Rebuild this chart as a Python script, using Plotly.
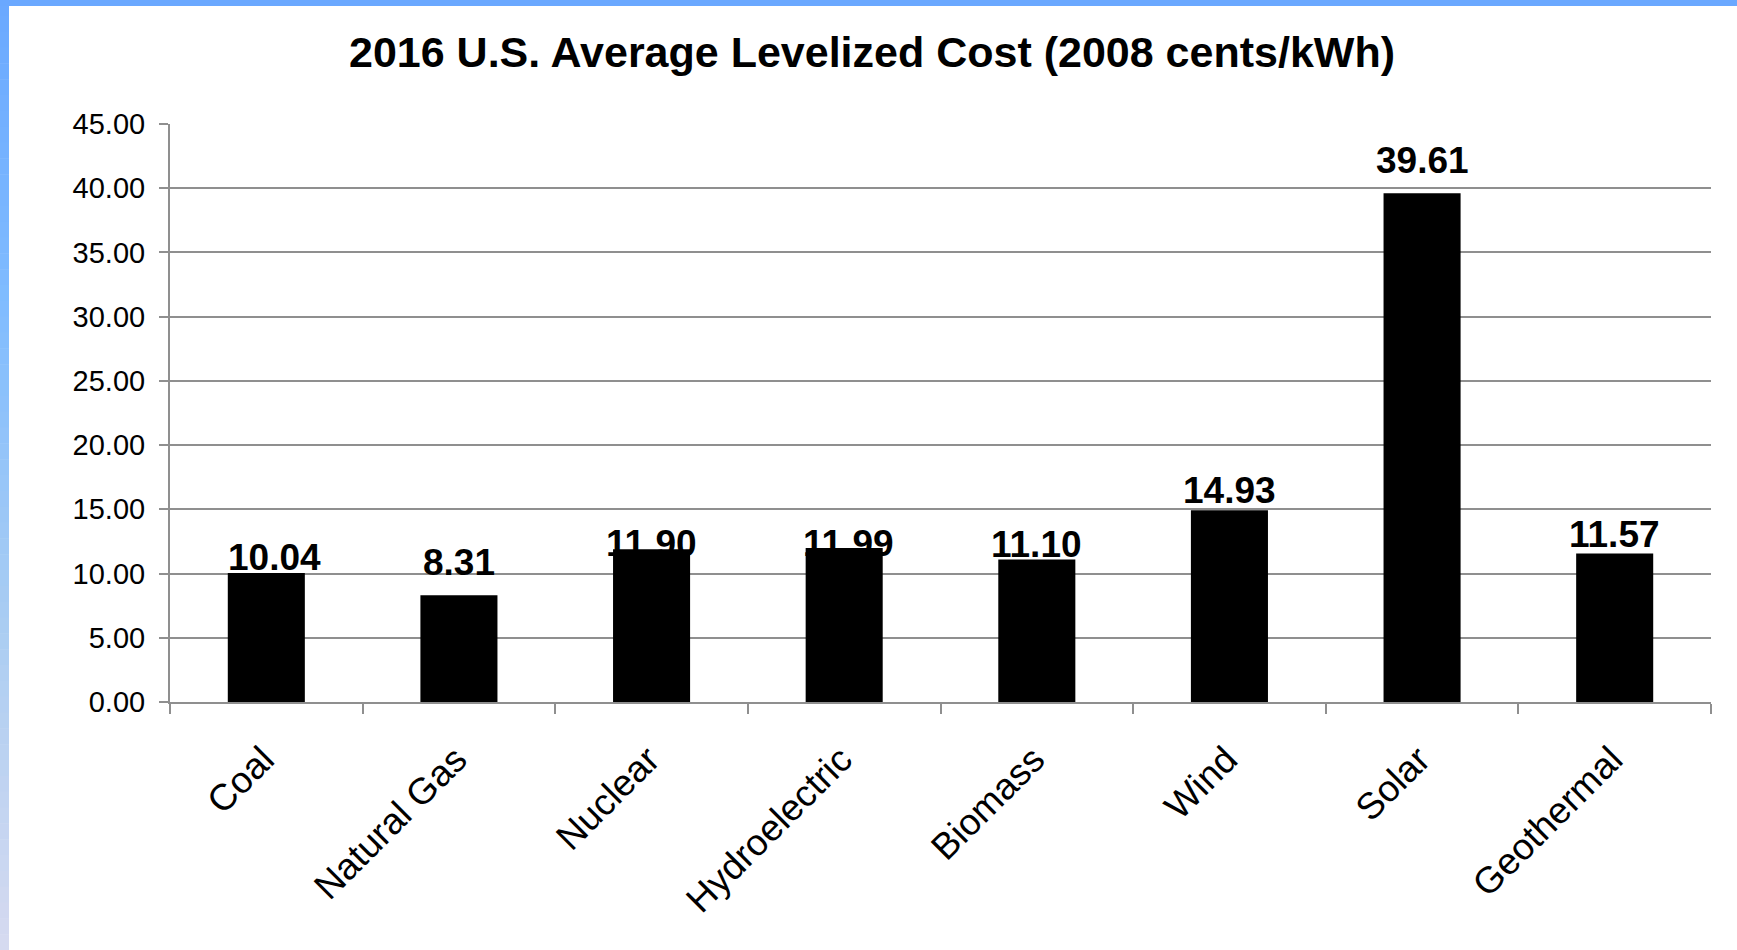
import plotly.graph_objects as go

# ---------------- data ----------------
categories = ["Coal", "Natural Gas", "Nuclear", "Hydroelectric",
              "Biomass", "Wind", "Solar", "Geothermal"]
costs = [10.04, 8.31, 11.90, 11.99, 11.10, 14.93, 39.61, 11.57]
value_labels = ["10.04", "8.31", "11.90", "11.99", "11.10", "14.93", "39.61", "11.57"]
y_tick_values = [0, 5, 10, 15, 20, 25, 30, 35, 40, 45]
y_tick_labels = ["0.00", "5.00", "10.00", "15.00", "20.00",
                 "25.00", "30.00", "35.00", "40.00", "45.00"]
title_text = "2016 U.S. Average Levelized Cost (2008 cents/kWh)"

# ---------------- styling ----------------
W, H = 1737, 950
ML, MR, MT, MB = 170, 26, 124, 248
PW, PH = W - ML - MR, H - MT - MB
FONT = "Liberation Sans, Arial, sans-serif"
GRID = "#8f8f8f"

# per-label manual nudges (pixels) as in the original slide
label_lift_px = [1.6, 19.7, -7.7, -9.0, 1.3, 6.0, 19.0, 5.7]
label_xshift_px = [8, 0, 0, 4, 0, 0, 0, 0]
DESCENT = 9

fig = go.Figure()
fig.add_trace(go.Bar(
    x=categories, y=costs, width=0.4,
    marker=dict(color="#000000", line=dict(width=0)),
    hoverinfo="x+y", showlegend=False,
))

for cat, val, txt, lift, xs in zip(categories, costs, value_labels,
                                    label_lift_px, label_xshift_px):
    fig.add_annotation(
        x=cat, y=val, text="<b>%s</b>" % txt, showarrow=False,
        xanchor="center", yanchor="bottom", yshift=lift - DESCENT, xshift=xs,
        font=dict(family=FONT, size=37, color="#000000"),
    )

# decorative gradient frame (left and top edges)
def px2x(px):
    return (px - ML) / PW

def px2y(py):
    return (H - MB - py) / PH

stops = [(0, (106, 168, 255)), (300, (128, 188, 255)),
         (625, (170, 205, 242)), (950, (214, 218, 240))]

def col_at(py):
    for (y0, c0), (y1, c1) in zip(stops[:-1], stops[1:]):
        if y0 <= py <= y1:
            t = (py - y0) / (y1 - y0)
            return "rgb(%d,%d,%d)" % tuple(round(a + (b - a) * t) for a, b in zip(c0, c1))
    return "rgb(%d,%d,%d)" % stops[-1][1]

shapes = []
n = 60
for i in range(n):
    y0 = H * i / n
    y1 = H * (i + 1) / n + 0.5
    shapes.append(dict(type="rect", xref="paper", yref="paper",
                       x0=px2x(0), x1=px2x(9), y0=px2y(y1), y1=px2y(y0),
                       fillcolor=col_at((y0 + y1) / 2), line=dict(width=0), layer="above"))
shapes.append(dict(type="rect", xref="paper", yref="paper",
                   x0=px2x(0), x1=px2x(W), y0=px2y(6), y1=px2y(0),
                   fillcolor="rgb(106,168,255)", line=dict(width=0), layer="above"))

fig.update_layout(
    width=W, height=H,
    margin=dict(l=ML, r=MR, t=MT, b=MB, pad=0),
    paper_bgcolor="#ffffff", plot_bgcolor="#ffffff",
    font=dict(family=FONT, color="#000000"),
    title=dict(text="<b>%s</b>" % title_text, x=872 / W, xanchor="center",
               xref="container", yref="container", y=1 - 52 / H, yanchor="middle",
               font=dict(family=FONT, size=43, color="#000000")),
    bargap=0.6,
    shapes=shapes,
)

fig.update_xaxes(
    type="category", tickangle=-45, tickson="boundaries",
    ticks="outside", ticklen=10, tickwidth=2, tickcolor=GRID,
    showline=True, linecolor=GRID, linewidth=2, showgrid=False,
    tickfont=dict(family=FONT, size=37, color="#000000"),
    ticklabelstandoff=19, ticklabelshift=-3,
    automargin=False,
)
fig.update_yaxes(
    range=[0, 45], tickmode="array", tickvals=y_tick_values, ticktext=y_tick_labels,
    ticks="outside", ticklen=9, tickwidth=2, tickcolor=GRID,
    showline=True, linecolor=GRID, linewidth=2,
    showgrid=True, gridcolor=GRID, gridwidth=2, zeroline=False,
    tickfont=dict(family=FONT, size=29, color="#000000"),
    ticklabelstandoff=8,
    automargin=False,
)

fig.write_html("out.html", config={"displayModeBar": False},
               post_script="document.body.style.margin='0';document.body.style.overflow='hidden';")
